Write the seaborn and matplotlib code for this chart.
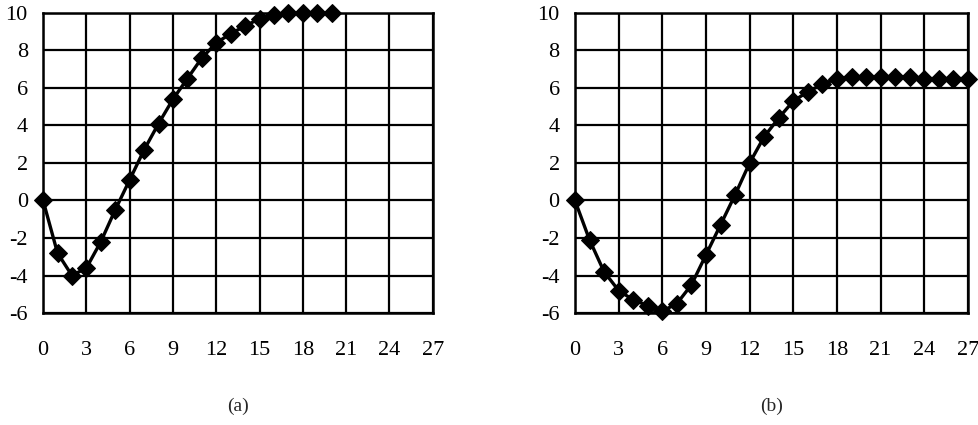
import matplotlib
matplotlib.use("Agg")
import matplotlib.pyplot as plt
import seaborn as sns
import pandas as pd

# courbe (a) : 21 points, courbe (b) : 28 points
steps_a = list(range(21))
vals_a = [0, -2.8, -4.0, -3.6, -2.2, -0.5, 1.1, 2.7, 4.1, 5.4, 6.5,
          7.6, 8.4, 8.9, 9.3, 9.7, 9.9, 10, 10, 10, 10]

steps_b = list(range(28))
vals_b = [0, -2.1, -3.8, -4.8, -5.3, -5.6, -5.9, -5.5, -4.5, -2.9, -1.3,
          0.3, 2.0, 3.4, 4.4, 5.3, 5.8, 6.2, 6.5, 6.6, 6.6, 6.6, 6.6, 6.6,
          6.5, 6.5, 6.5, 6.5]

x_ticks = list(range(0, 28, 3))
y_ticks = list(range(-6, 11, 2))
sous_titres = ["(a)", "(b)"]

sns.set_theme(style="white")
plt.rcParams["font.family"] = ["Liberation Serif", "DejaVu Serif"]
plt.rcParams["axes.unicode_minus"] = False  # tiret simple comme l'original

fig = plt.figure(figsize=(9.79, 4.25), dpi=100)
ax_a = fig.add_axes([0.044, 0.2635, 0.398, 0.706])
ax_b = fig.add_axes([0.5873, 0.2635, 0.4014, 0.706])

for ax, x, y, titre in [(ax_a, steps_a, vals_a, sous_titres[0]),
                        (ax_b, steps_b, vals_b, sous_titres[1])]:
    df = pd.DataFrame({"t": x, "v": y})
    sns.lineplot(data=df, x="t", y="v", ax=ax, color="black", linewidth=2.4,
                 marker="D", markersize=9, markeredgecolor="black",
                 clip_on=False, zorder=5)
    ax.set_xlim(0, 27)
    ax.set_ylim(-6, 10)
    ax.set_xticks(x_ticks)
    ax.set_yticks(y_ticks)
    ax.grid(True, color="black", linewidth=1.6)
    for s in ax.spines.values():
        s.set_visible(True)
        s.set_color("black")
        s.set_linewidth(1.8)
    ax.tick_params(axis="both", length=0, labelsize=16, colors="black")
    ax.tick_params(axis="x", pad=20)
    ax.tick_params(axis="y", pad=11)
    ax.set_xlabel("")
    ax.set_ylabel("")
    ax.text(0.5, -0.31, titre, transform=ax.transAxes, ha="center",
            va="center", fontsize=14)

fig.savefig("out.png", dpi=100)
